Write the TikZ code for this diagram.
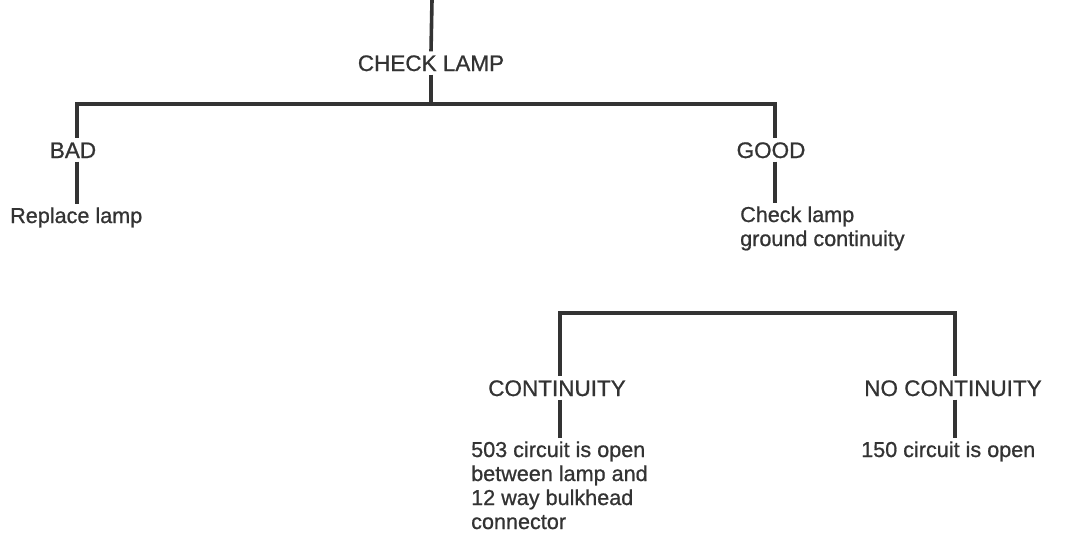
\documentclass[tikz,border=0pt]{standalone}
\usepackage{fontspec}
\setmainfont[FakeBold=0.8]{Liberation Sans}
\definecolor{ink}{HTML}{333333}
\begin{document}
\begin{tikzpicture}[x=1pt,y=-1pt,
  wire/.style={draw=ink,line width=3.6pt},
  bar/.style={draw=ink,line width=4pt,line cap=rect},
  head/.style={font=\fontsize{22.5}{24}\selectfont,text=ink,inner xsep=0pt,inner ysep=3.5pt,text height=16pt,text depth=0pt,anchor=base},
  note/.style={font=\fontsize{21.6}{24}\selectfont,text=ink,inner xsep=0pt,inner ysep=3pt,align=left,anchor=base west}]
\useasboundingbox (0,0) rectangle (1065,539);
% nodes
\coordinate (top) at (432,0);
\node[head] (check) at (431,71) {CHECK LAMP};
\coordinate (b1L) at (77,104);
\coordinate (b1R) at (775,104);
\node[head] (bad) at (73,158) {BAD};
\node[note] (replace) at (10,223) {Replace lamp};
\node[head] (good) at (771,158) {GOOD};
\node[note] (checkgnd) at (740,246) {Check lamp\\ground continuity};
\coordinate (b2L) at (560,313);
\coordinate (b2R) at (955,313);
\node[head] (cont) at (557,396) {CONTINUITY};
\node[note] (c503) at (471,529) {503 circuit is open\\between lamp and\\12 way bulkhead\\connector};
\node[head] (nocont) at (953,396) {NO CONTINUITY};
\node[note] (c150) at (861,457) {150 circuit is open};
% connectors
\draw[wire] (top) -- (check.north);
\draw[wire] (check.south) -- (check.south |- b1L);
\draw[bar] (b1L) -- (b1R);
\draw[wire] (b1L) -- (b1L |- bad.north);
\draw[wire] (b1L |- bad.south) -- (b1L |- replace.north);
\draw[wire] (b1R) -- (b1R |- good.north);
\draw[wire] (b1R |- good.south) -- (b1R |- checkgnd.north);
\draw[bar] (b2L) -- (b2R);
\draw[wire] (b2L) -- (b2L |- cont.north);
\draw[wire] (b2L |- cont.south) -- (b2L |- c503.north);
\draw[wire] (b2R) -- (b2R |- nocont.north);
\draw[wire] (b2R |- nocont.south) -- (b2R |- c150.north);
\end{tikzpicture}
\end{document}
